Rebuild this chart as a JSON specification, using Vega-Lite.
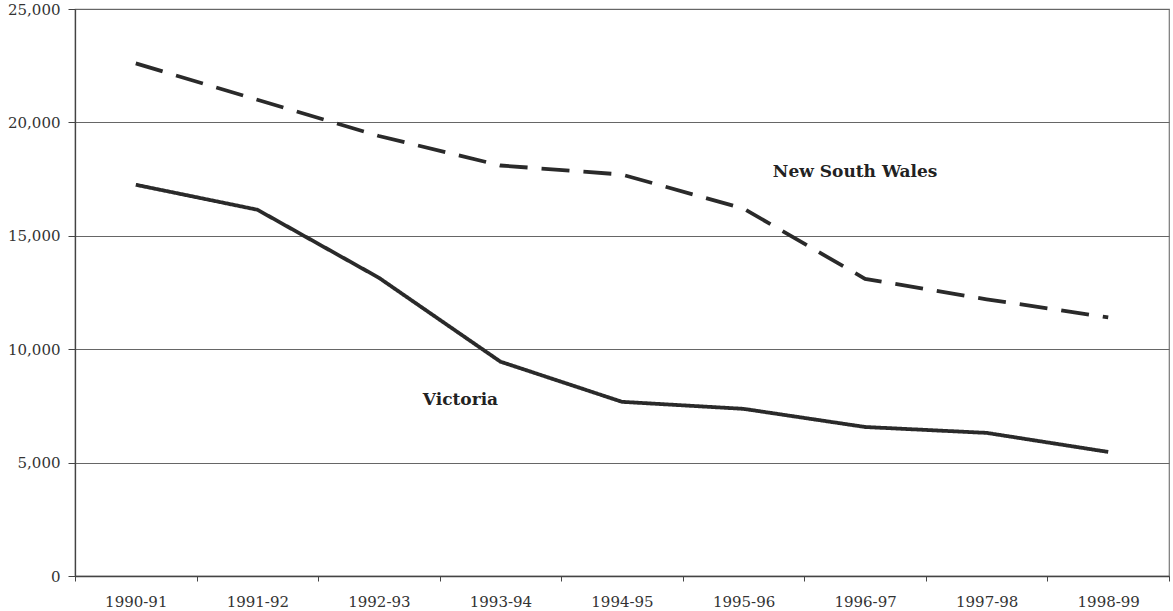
{
  "$schema": "https://vega.github.io/schema/vega-lite/v6.json",
  "width": 1094,
  "height": 567,
  "autosize": "none",
  "padding": {"left": 75, "top": 9, "right": 4, "bottom": 35},
  "background": "white",
  "config": {
    "view": {"stroke": "#777", "strokeWidth": 1.2},
    "font": "DejaVu Serif",
    "axis": {
      "labelFont": "DejaVu Serif",
      "labelFontSize": 15,
      "labelColor": "#333",
      "domainColor": "#444",
      "tickColor": "#444",
      "gridColor": "#666",
      "gridWidth": 1.2,
      "domainWidth": 1.3,
      "title": null
    }
  },
  "datasets": {
    "series": [
      {"year": "1990-91", "state": "New South Wales", "value": 22600},
      {"year": "1991-92", "state": "New South Wales", "value": 21000},
      {"year": "1992-93", "state": "New South Wales", "value": 19400},
      {"year": "1993-94", "state": "New South Wales", "value": 18100},
      {"year": "1994-95", "state": "New South Wales", "value": 17700},
      {"year": "1995-96", "state": "New South Wales", "value": 16200},
      {"year": "1996-97", "state": "New South Wales", "value": 13100},
      {"year": "1997-98", "state": "New South Wales", "value": 12200},
      {"year": "1998-99", "state": "New South Wales", "value": 11400},
      {"year": "1990-91", "state": "Victoria", "value": 17250},
      {"year": "1991-92", "state": "Victoria", "value": 16150},
      {"year": "1992-93", "state": "Victoria", "value": 13150},
      {"year": "1993-94", "state": "Victoria", "value": 9450},
      {"year": "1994-95", "state": "Victoria", "value": 7680},
      {"year": "1995-96", "state": "Victoria", "value": 7370},
      {"year": "1996-97", "state": "Victoria", "value": 6570},
      {"year": "1997-98", "state": "Victoria", "value": 6310},
      {"year": "1998-99", "state": "Victoria", "value": 5470}
    ]
  },
  "encoding": {
    "x": {
      "field": "year",
      "type": "nominal",
      "sort": ["1990-91", "1991-92", "1992-93", "1993-94", "1994-95", "1995-96", "1996-97", "1997-98", "1998-99"],
      "scale": {"paddingInner": 0, "paddingOuter": 0},
      "axis": {"labelAngle": 0, "tickBand": "extent", "tickSize": 5, "labelPadding": 13, "grid": false, "labelFontSize": 15}
    },
    "y": {
      "field": "value",
      "type": "quantitative",
      "scale": {"domain": [0, 25000], "nice": false, "zero": true},
      "axis": {"values": [0, 5000, 10000, 15000, 20000, 25000], "format": ",d", "tickSize": 7, "labelPadding": 8, "grid": true, "labelFontSize": 15}
    }
  },
  "layer": [
    {
      "data": {"name": "series"},
      "mark": {"type": "line", "color": "#2a2a2a", "strokeWidth": 3.8},
      "encoding": {
        "strokeDash": {
          "field": "state",
          "type": "nominal",
          "scale": {"domain": ["New South Wales", "Victoria"], "range": [[28, 14], [1, 0]]},
          "legend": null
        },
        "detail": {"field": "state"}
      }
    },
    {
      "data": {"values": [{"year": "1996-97", "value": 17800, "label": "New South Wales"}]},
      "mark": {"type": "text", "fontWeight": "bold", "fontSize": 17, "font": "DejaVu Serif", "color": "#222", "dx": -10},
      "encoding": {
        "text": {"field": "label"}
      }
    },
    {
      "data": {"values": [{"year": "1993-94", "value": 7760, "label": "Victoria"}]},
      "mark": {"type": "text", "fontWeight": "bold", "fontSize": 17, "font": "DejaVu Serif", "color": "#222", "dx": -40},
      "encoding": {
        "text": {"field": "label"}
      }
    }
  ]
}
